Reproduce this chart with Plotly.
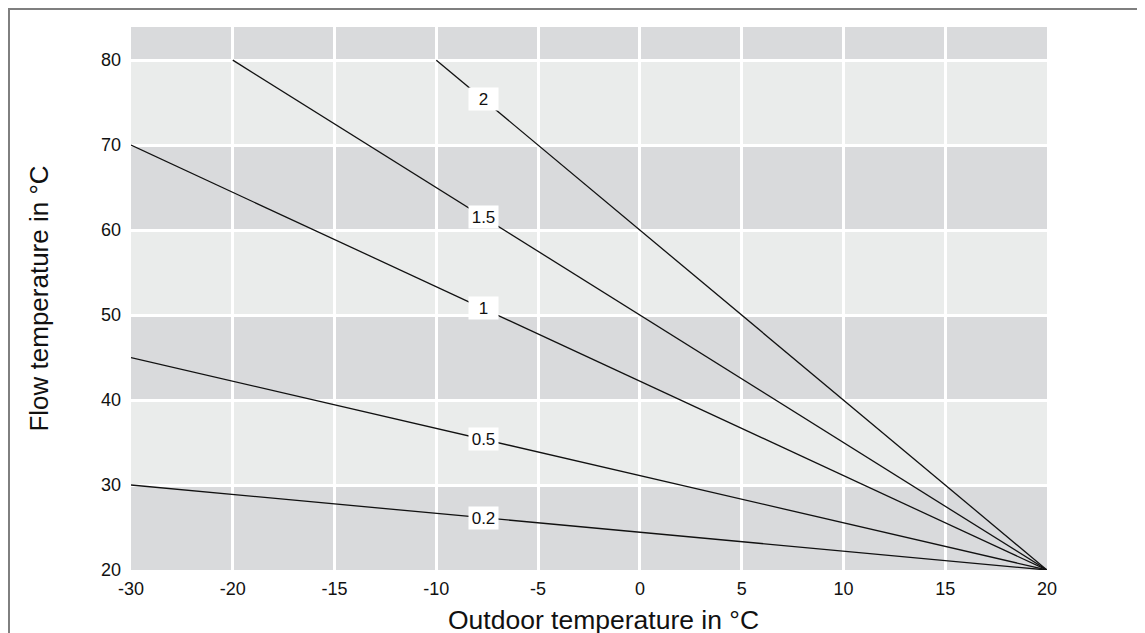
import numpy as np
import plotly.graph_objects as go

# outdoor temperature ticks (evenly spaced on the chart, although the values are not)
x_ticks = [-30, -20, -15, -10, -5, 0, 5, 10, 15, 20]
y_ticks = [20, 30, 40, 50, 60, 70, 80]

# heating curves: slope name, start point, common end point
curve_names = ["0.2", "0.5", "1", "1.5", "2"]
start_x = [-30, -30, -30, -20, -10]
start_y = [30, 45, 70, 80, 80]
end_x = 20
end_y = 20
label_x = -7.7

# background bands (lower, upper, dark?)
band_lo = [20, 30, 40, 50, 60, 70, 80]
band_hi = [30, 40, 50, 60, 70, 80, 83.9]
band_dark = [True, False, True, False, True, False, True]

pos = list(range(len(x_ticks)))


def to_pos(x):
    return np.interp(x, x_ticks, pos)


FONT = "Liberation Sans, Arial, sans-serif"
INK = "#111111"
fig = go.Figure()

for i, name in enumerate(curve_names):
    xs = to_pos([start_x[i], end_x])
    ys = [start_y[i], end_y]
    fig.add_trace(go.Scatter(x=xs, y=ys, mode="lines", name=name,
                             line=dict(color=INK, width=1.3),
                             showlegend=False, hoverinfo="skip"))
    lx = to_pos(label_x)
    ly = float(np.interp(lx, xs, ys))
    fig.add_annotation(x=lx, y=ly, text=name, showarrow=False,
                       bgcolor="white", borderpad=1, width=27, height=20,
                       font=dict(family=FONT, size=17, color=INK))

for lo, hi, dark in zip(band_lo, band_hi, band_dark):
    fig.add_shape(type="rect", xref="x", yref="y", x0=0, x1=pos[-1], y0=lo, y1=hi,
                  fillcolor="#d9dadc" if dark else "#eaeceb",
                  line=dict(width=0), layer="below")

# outer frame (only top and left edges are visible)
fig.add_shape(type="rect", xref="paper", yref="paper",
              x0=-0.1332, x1=1.3, y0=-0.3, y1=1.0331,
              line=dict(color="#7f7f7f", width=2), fillcolor="rgba(0,0,0,0)")

# x title sits a little right of the plot centre
fig.add_annotation(text="Outdoor temperature in °C", xref="paper", yref="paper",
                   x=0.5153, y=-0.0921, xanchor="center", yanchor="middle",
                   showarrow=False, font=dict(family=FONT, size=26.5, color=INK))

fig.update_xaxes(range=[0, pos[-1]], tickvals=pos, ticktext=[str(t) for t in x_ticks],
                 showgrid=True, gridcolor="white", gridwidth=3, zeroline=False,
                 showline=False, ticks="", ticklabelstandoff=6, automargin=False,
                 tickfont=dict(family=FONT, size=18, color=INK))
fig.update_yaxes(range=[20, 83.9], tickvals=y_ticks,
                 showgrid=True, gridcolor="white", gridwidth=3, zeroline=False,
                 showline=False, ticks="", ticklabelstandoff=9, automargin=False,
                 tickfont=dict(family=FONT, size=18, color=INK),
                 title=dict(text="Flow temperature in °C", standoff=44,
                            font=dict(family=FONT, size=26, color=INK)))

fig.update_layout(width=1145, height=633, plot_bgcolor="white", paper_bgcolor="white",
                  margin=dict(l=123, r=106, t=19, b=71), showlegend=False)

fig.write_html("out.html")
